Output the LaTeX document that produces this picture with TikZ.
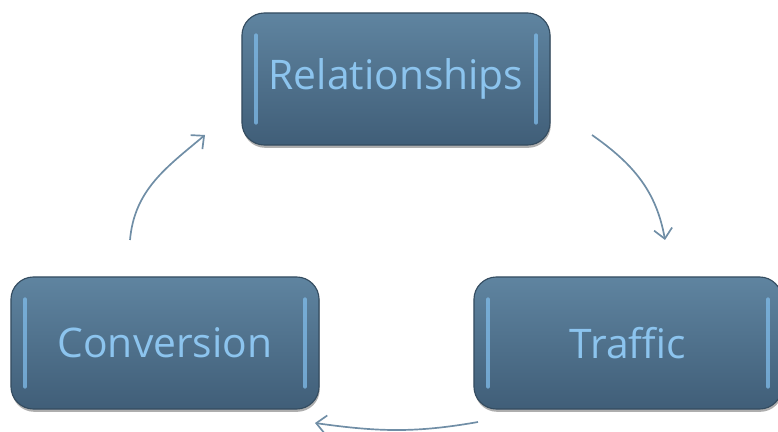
\documentclass[tikz,border=0pt]{standalone}
\usepackage{fontspec}
\setmainfont{Open Sans}
\usetikzlibrary{arrows.meta,shadows}

\definecolor{boxtop}{RGB}{95,132,160}
\definecolor{boxbot}{RGB}{64,94,120}
\definecolor{boxline}{RGB}{52,76,96}
\definecolor{hilite}{RGB}{128,188,234}
\definecolor{labelc}{RGB}{140,196,238}
\definecolor{arrowc}{RGB}{112,142,166}

\tikzset{
  stagebox/.style={rectangle, rounded corners=16pt, draw=boxline, line width=0.8pt,
    top color=boxtop, bottom color=boxbot, text=labelc, font=\fontsize{29}{34}\selectfont,
    minimum width=7.7cm, minimum height=3.3cm,
    drop shadow={shadow xshift=0.5pt, shadow yshift=-2pt, opacity=0.45, fill=black!70},
    path picture={
      \draw[hilite, line width=3pt, line cap=round, opacity=0.75]
        ([xshift=10pt,yshift=-16pt]path picture bounding box.north west)
        -- ([xshift=10pt,yshift=16pt]path picture bounding box.south west);
      \draw[hilite, line width=3pt, line cap=round, opacity=0.75]
        ([xshift=-10pt,yshift=-16pt]path picture bounding box.north east)
        -- ([xshift=-10pt,yshift=16pt]path picture bounding box.south east);
    }},
  cyclearrow/.style={arrowc, line width=1.2pt,
    -{Straight Barb[length=7pt,width=13pt,line width=1.2pt]}}
}

\begin{document}
\begin{tikzpicture}[x=0.025cm, y=-0.025cm]
  \useasboundingbox (0,0) rectangle (778,432);

  % the three stages
  \node[stagebox] (rel) at (396,79) {Relationships};
  \node[stagebox] (traffic) at (628,343) {Traffic};
  \node[stagebox] (conv) at (165,343) {Conversion};

  % ends of the arrows
  \coordinate (relout) at (592,135);
  \coordinate (trafin) at (665,240);
  \coordinate (trafout) at (478,422);
  \coordinate (convin) at (315,423);
  \coordinate (convout) at (130,240);
  \coordinate (relin) at (205,135);

  \draw[cyclearrow] (relout) to[out=-35, in=100] (trafin);
  \draw[cyclearrow] (trafout) to[out=190, in=-8] (convin);
  \draw[cyclearrow] (convout) to[out=85, in=220] (relin);
\end{tikzpicture}
\end{document}
